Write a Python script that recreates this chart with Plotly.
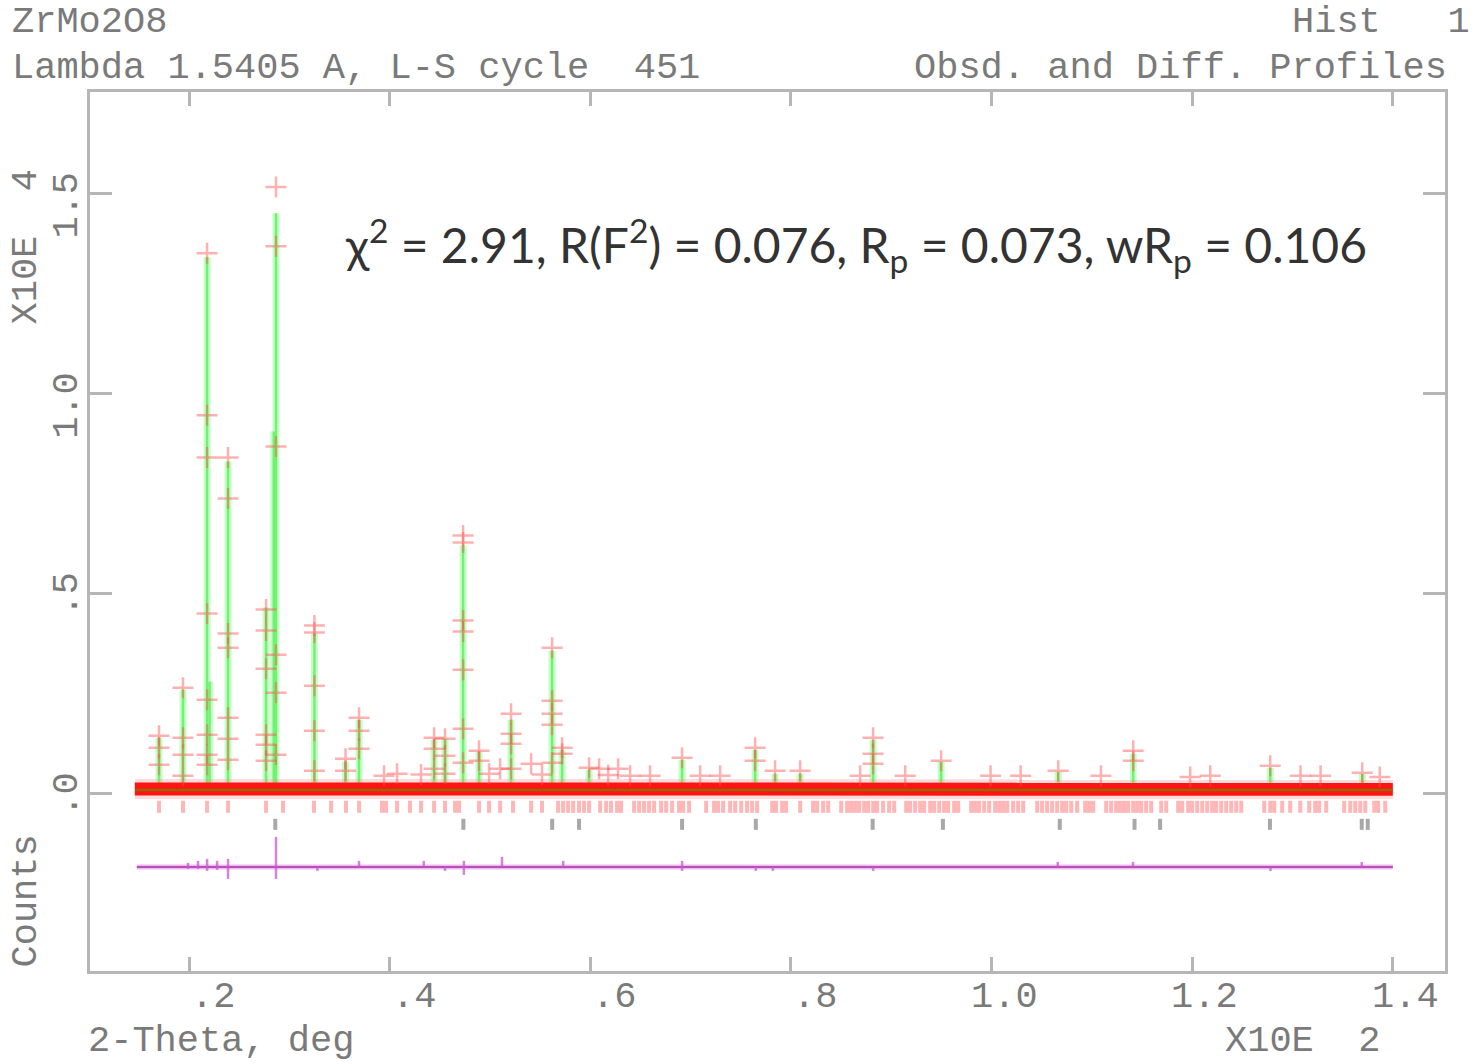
import plotly.graph_objects as go

# ---------------- data (2-theta in degrees, intensity in counts) ----------------
obs_x = [17.01, 17.01, 17.01,
         19.40, 19.40, 19.40, 19.40,
         21.80, 21.80, 21.80, 21.80, 21.80, 21.80, 21.80, 21.80,
         23.89, 23.89, 23.89, 23.89, 23.89, 23.89, 23.89,
         27.68, 27.68, 27.68, 27.68, 27.68, 27.68,
         28.67, 28.67, 28.67, 28.67, 28.67, 28.67,
         32.50, 32.50, 32.50, 32.50, 32.50,
         35.60, 35.60,
         36.95, 36.95, 36.95,
         44.43, 44.43, 44.43,
         45.52, 45.52, 45.52,
         47.32, 47.32, 47.32, 47.32, 47.32, 47.32, 47.32,
         48.91, 48.91,
         51.01,
         52.10, 52.10, 52.10, 52.10,
         54.10,
         56.19, 56.19, 56.19, 56.19, 56.19,
         57.19, 57.19,
         59.88, 60.88, 62.77, 69.15,
         76.43, 76.43, 78.42, 80.92,
         88.19, 88.19, 88.19,
         91.39, 94.97, 106.64,
         114.12, 114.12,
         127.78, 136.95,
         39.44, 40.74, 43.13, 49.91, 55.19, 61.78, 63.97, 65.96, 70.95, 72.94,
         86.90, 99.90, 102.90, 110.90, 119.80, 121.80, 130.80, 132.80, 138.70]
obs_y = [1450, 1150, 725,
         2650, 1400, 975, 450,
         13500, 9450, 8400, 4500, 2350, 1475, 975, 725,
         8400, 7375, 4000, 3650, 1900, 1375, 850,
         4600, 4075, 3125, 1475, 1225, 825,
         15150, 13675, 8675, 3475, 2525, 975,
         4200, 4025, 2700, 1575, 575,
         875, 575,
         1900, 1575, 1125,
         1400, 1125, 625,
         1375, 950, 500,
         6450, 6275, 4325, 4050, 3100, 1625, 775,
         1075, 825,
         625,
         2000, 1500, 1250, 625,
         750,
         3650, 2325, 2000, 1725, 775,
         1150, 1000,
         650, 625, 625, 900,
         1150, 825, 575, 575,
         1400, 1000, 750,
         450, 825, 575,
         1075, 825,
         700, 525,
         450, 500, 480, 500, 480, 470, 450, 450, 450, 450,
         450, 450, 450, 450, 420, 450, 450, 450, 420]

# calculated profile maxima
calc_x = [17.01, 19.40, 21.80, 22.05, 23.89, 27.68, 28.45, 28.67, 32.50, 35.60,
          36.95, 44.43, 45.52, 47.32, 48.91, 52.10, 56.19, 57.19, 59.88, 69.15,
          76.43, 78.42, 80.92, 88.19, 94.97, 106.64, 114.12, 127.78, 136.95]
calc_y = [1400, 2600, 13400, 2800, 8300, 4650, 9050, 14500, 4000, 800,
          1850, 1350, 1375, 6200, 1050, 1850, 3575, 1100, 600, 850,
          1100, 500, 500, 1350, 800, 550, 1000, 650, 500]

# background level (observed / calculated)
bg_x = [14.6, 60.0, 100.0, 140.0]
bg_obs = [120, 110, 110, 115]
bg_calc = [95, 90, 90, 95]

# reflection positions, main phase (row 1) and Si standard (row 2)
refl_main = [17.01, 19.40, 21.80, 23.89, 27.68, 29.37, 32.46, 34.16, 35.65, 36.95,
             39.24, 39.64, 40.74, 42.03, 43.13, 44.43, 45.52, 46.52, 46.92, 48.91,
             49.91, 51.01, 52.30, 54.10, 55.19, 56.79, 57.29, 57.79, 58.29, 58.88,
             59.38, 59.88, 60.98, 61.58, 62.07, 62.67, 63.07, 64.37, 64.87, 65.36,
             65.86, 66.36, 67.06, 67.56, 68.16, 68.85, 69.25, 69.85, 71.55, 72.34,
             72.74, 73.24, 73.94, 74.44, 75.04, 75.63, 76.13, 76.63, 78.13, 78.52,
             79.12, 79.52, 80.92, 82.21, 82.61, 83.21, 83.71, 85.01, 85.60, 86.00,
             86.40, 86.80, 87.30, 87.70, 88.20, 88.59, 89.19, 89.79, 90.29, 91.49,
             91.88, 92.38, 92.88, 93.28, 93.88, 94.28, 94.78, 95.27, 95.67, 96.27,
             96.67, 97.97, 98.36, 98.76, 99.26, 99.76, 100.36, 100.76, 101.16, 101.56,
             102.15, 102.65, 103.15, 104.55, 105.04, 105.54, 106.04, 106.54, 107.04, 107.44,
             107.94, 108.53, 109.33, 109.73, 110.13, 111.43, 111.92, 112.42, 112.82, 113.22,
             113.62, 114.12, 114.52, 114.92, 115.41, 115.91, 116.91, 117.41, 118.60, 119.00,
             119.60, 120.00, 120.50, 121.00, 121.50, 121.99, 122.39, 122.89, 123.39, 123.89,
             124.39, 124.89, 127.18, 127.78, 128.18, 128.97, 129.77, 130.77, 131.66, 132.26,
             132.66, 133.36, 135.15, 135.75, 136.25, 136.75, 137.25, 138.15, 138.54, 139.24]
refl_si = [28.60, 47.35, 56.20, 58.88, 69.15, 76.50, 88.15, 95.15, 106.80, 114.25,
           116.80, 127.75, 136.90, 137.50]

# difference curve excursions (counts above / below zero)
diff_x = [19.9, 20.9, 21.8, 22.8, 23.89, 28.67, 32.8, 36.95, 43.4, 45.52,
          47.4, 51.2, 57.3, 69.15, 76.5, 78.2, 88.2, 106.6, 114.1, 127.8, 136.9]
diff_hi = [100, 150, 200, 150, 200, 750, 0, 150, 150, 0,
           150, 250, 150, 150, 0, 0, 0, 125, 125, 0, 125]
diff_lo = [-50, -50, -100, -75, -300, -300, -100, 0, 0, -100,
           -200, 0, 0, -100, -100, -100, -100, 0, 0, -100, 0]

# ---------------- layout constants ----------------
ROW1 = (-175, -475)
ROW2 = (-625, -900)
DIFF0 = -1825
X_RANGE = [10.13, 145.2]
Y_RANGE = [-4425, 17525]
W, H = 1476, 1064
ML, MR, MT, MB = 90, 31, 92, 93
PW, PH = W - ML - MR, H - MT - MB


def segs(xs, lo, hi):
    X, Y = [], []
    for i, x in enumerate(xs):
        a = lo[i] if isinstance(lo, list) else lo
        b = hi[i] if isinstance(hi, list) else hi
        X += [x, x, None]
        Y += [a, b, None]
    return X, Y


def bg_at(x):
    for i in range(len(bg_x) - 1):
        if bg_x[i] <= x <= bg_x[i + 1]:
            t = (x - bg_x[i]) / (bg_x[i + 1] - bg_x[i])
            return bg_calc[i] + t * (bg_calc[i + 1] - bg_calc[i])
    return bg_calc[-1]


fig = go.Figure()

# calculated curve (spikes from background up to calculated maxima)
cx, cy = segs(calc_x, [bg_at(x) for x in calc_x], calc_y)
fig.add_trace(go.Scatter(x=cx, y=cy, mode="lines",
                         line=dict(color="#c4ffc4", width=7), hoverinfo="skip"))
fig.add_trace(go.Scatter(x=cx, y=cy, mode="lines",
                         line=dict(color="#72f272", width=2.5), hoverinfo="skip"))

# reflection tick rows
rx, ry = segs(refl_main, ROW1[0], ROW1[1])
fig.add_trace(go.Scatter(x=rx, y=ry, mode="lines",
                         line=dict(color="rgba(255,110,110,0.5)", width=4), hoverinfo="skip"))
sx, sy = segs(refl_si, ROW2[0], ROW2[1])
fig.add_trace(go.Scatter(x=sx, y=sy, mode="lines",
                         line=dict(color="#a8a8a8", width=4), hoverinfo="skip"))

# observed background band
fig.add_trace(go.Scatter(x=bg_x, y=bg_obs, mode="lines",
                         line=dict(color="rgba(255,140,140,0.3)", width=20), hoverinfo="skip"))
fig.add_trace(go.Scatter(x=bg_x, y=bg_obs, mode="lines",
                         line=dict(color="#ff1414", width=13), hoverinfo="skip"))
fig.add_trace(go.Scatter(x=bg_x, y=bg_calc, mode="lines",
                         line=dict(color="#9a6400", width=2.5), hoverinfo="skip"))

# observed points
fig.add_trace(go.Scatter(x=obs_x, y=obs_y, mode="markers",
                         marker=dict(symbol="cross-thin", size=15,
                                     line=dict(width=2.5, color="rgba(255,80,80,0.45)")),
                         hoverinfo="skip"))

# difference curve
fig.add_trace(go.Scatter(x=[bg_x[0] + 0.2, bg_x[-1]], y=[DIFF0, DIFF0], mode="lines",
                         line=dict(color="rgba(225,140,225,0.6)", width=5), hoverinfo="skip"))
fig.add_trace(go.Scatter(x=[bg_x[0] + 0.2, bg_x[-1]], y=[DIFF0, DIFF0], mode="lines",
                         line=dict(color="#b850b8", width=2), hoverinfo="skip"))
dx, dy = segs(diff_x, [DIFF0 + v for v in diff_lo], [DIFF0 + v for v in diff_hi])
fig.add_trace(go.Scatter(x=dx, y=dy, mode="lines",
                         line=dict(color="rgba(200,90,210,0.75)", width=2.5), hoverinfo="skip"))

GRAY = "#b6b6b6"
TXT = "#7a7a7a"
MONO = "Liberation Mono"
FS = 37

axis_common = dict(showgrid=False, zeroline=False, showline=True, linewidth=3,
                   linecolor=GRAY, mirror="ticks", ticks="inside", tickcolor=GRAY,
                   tickwidth=2.5, showticklabels=False)

fig.update_layout(
    width=W, height=H,
    margin=dict(l=ML, r=MR, t=MT, b=MB),
    paper_bgcolor="white", plot_bgcolor="white",
    showlegend=False,
    xaxis=dict(range=X_RANGE, tickvals=[20, 40, 60, 80, 100, 120, 140], ticklen=14,
               **axis_common),
    yaxis=dict(range=Y_RANGE, tickvals=[0, 5000, 10000, 15000], ticklen=22,
               **axis_common),
)


def px(xp):
    return (xp - ML) / PW


def py(yp):
    return (MT + PH - yp) / PH


def txt(text, xp, yp, xanchor, yanchor="middle", angle=0):
    fig.add_annotation(text=text, xref="paper", yref="paper", x=px(xp), y=py(yp),
                       xanchor=xanchor, yanchor=yanchor, textangle=angle,
                       showarrow=False, font=dict(family=MONO, size=FS, color=TXT))


NB = "\u00a0"
txt("ZrMo2O8", 10, 22, "left")
txt("Lambda" + NB + "1.5405" + NB + "A," + NB + "L-S" + NB + "cycle" + NB * 2 + "451", 10, 68, "left")
txt("Hist" + NB * 3 + "1", 1472, 22, "right")
txt("Obsd." + NB + "and" + NB + "Diff." + NB + "Profiles", 1449, 68, "right")
txt("2-Theta," + NB + "deg", 86, 1041, "left")
txt("X10E" + NB * 2 + "2", 1223, 1041, "left")
txt("X10E" + NB * 2 + "4", 25, 168, "center", "top", -90)
txt("Counts", 25, 833, "center", "top", -90)

# x tick labels (right aligned, GSAS style)
xlab = [".2", ".4", ".6", ".8", "1.0", "1.2", "1.4"]
for v, lab in zip([20, 40, 60, 80, 100, 120, 140], xlab):
    fig.add_annotation(text=lab, x=v, y=py(997), xref="x", yref="paper",
                       xanchor="right", yanchor="middle", xshift=48, showarrow=False,
                       font=dict(family=MONO, size=FS, color=TXT))

# y tick labels (rotated, end aligned)
ylab = [".0", ".5", "1.0", "1.5"]
for v, lab in zip([0, 5000, 10000, 15000], ylab):
    fig.add_annotation(text=lab, x=px(67), y=v, xref="paper", yref="y",
                       xanchor="center", yanchor="top", yshift=23, textangle=-90,
                       showarrow=False, font=dict(family=MONO, size=FS, color=TXT))

# refinement statistics
fig.add_annotation(text="χ<sup>2</sup> = 2.91, R(F<sup>2</sup>) = 0.076, R<sub>p</sub> = 0.073, wR<sub>p</sub> = 0.106",
                   x=px(343), y=py(245), xref="paper", yref="paper",
                   xanchor="left", yanchor="middle", showarrow=False,
                   font=dict(family="Lato", size=48, color="#333333"))

fig.write_html("out.html")
